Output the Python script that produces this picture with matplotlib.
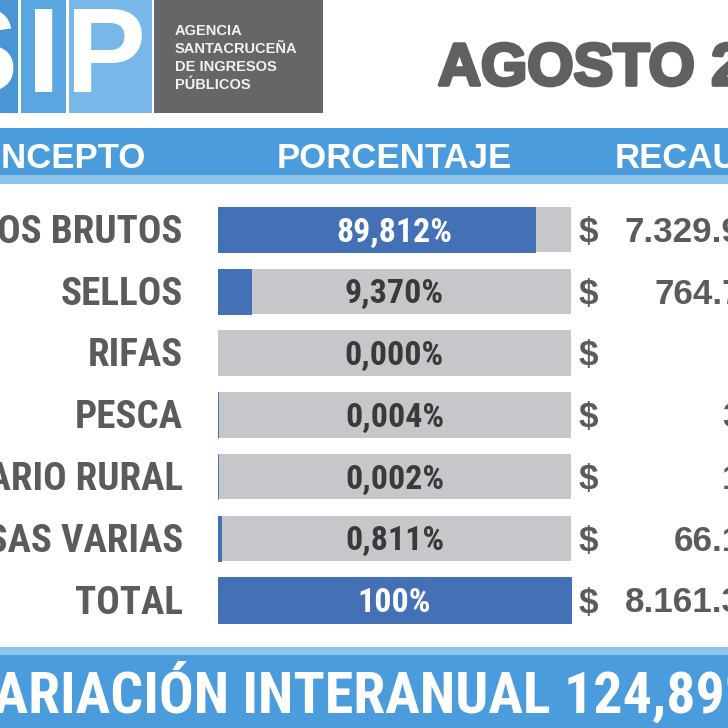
import matplotlib
matplotlib.use("Agg")
import matplotlib.pyplot as plt
from matplotlib.patches import Rectangle
from matplotlib import patheffects as pe
from matplotlib import font_manager as fm
from matplotlib.font_manager import FontProperties

# ---------------- data ----------------
conceptos = ["INGRESOS BRUTOS", "SELLOS", "RIFAS", "PESCA",
             "INMOBILIARIO RURAL", "TASAS VARIAS", "TOTAL"]
porcentajes = [89.812, 9.370, 0.000, 0.004, 0.002, 0.811, 100.0]
recaudacion = [7329916568, 764723180, 15000, 326456, 163228, 66188954, 8161333386]
titulo = "AGOSTO 2023"
encabezados = ["CONCEPTO", "PORCENTAJE", "RECAUDACIÓN"]
logo_letras = ["S", "I", "P"]
logo_texto = ["AGENCIA", "SANTACRUCEÑA", "DE INGRESOS", "PÚBLICOS"]
variacion = "VARIACIÓN INTERANUAL 124,89%"

# ---------------- fonts ----------------
names = {f.name for f in fm.fontManager.ttflist}
BOLD = "Liberation Sans" if "Liberation Sans" in names else "DejaVu Sans"


def _weight(w):
    if isinstance(w, (int, float)):
        return int(w)
    return fm.weight_dict.get(str(w), 400)


def find_condensed_bold():
    order = ["Roboto Condensed", "Liberation Sans Narrow", "Open Sans",
             "Noto Sans", "Lato", "Inter", "DejaVu Sans"]
    best = None
    for f in fm.fontManager.ttflist:
        if "CJK" in f.name or f.style != "normal":
            continue
        st = str(f.stretch)
        cond = ("Condensed" in f.name or "Narrow" in f.name
                or "Condensed" in f.fname or "Narrow" in f.fname
                or st in ("condensed", "semi-condensed"))
        if "Extra" in f.fname or "Ultra" in f.fname:
            continue
        if not cond:
            continue
        w = _weight(f.weight)
        if w < 600 or w > 800:
            continue
        rank = len(order)
        for i, o in enumerate(order):
            if f.name.startswith(o):
                rank = i
                break
        key = (rank, abs(w - 700))
        if best is None or key < best[0]:
            best = (key, f.fname)
    return best[1] if best else None


cond_path = find_condensed_bold()


def narrow_fp(px):
    if cond_path:
        return FontProperties(fname=cond_path, size=px * 0.72)
    return FontProperties(family=BOLD, weight="bold", size=px * 0.72)


def bold_fp(px):
    return FontProperties(family=BOLD, weight="bold", size=px * 0.72)


BLUE_BAR = "#4470b6"
GRAY_BAR = "#c6c7cb"
LABEL = "#5b5b5b"
HEAD_BLUE = "#4b9cdc"
HEAD_LIGHT = "#8cc4ec"

fig = plt.figure(figsize=(7.28, 7.28), dpi=100)
fig.patch.set_facecolor("white")
ax = fig.add_axes([0, 0, 1, 1])
ax.set_xlim(0, 728)
ax.set_ylim(728, 0)
ax.axis("off")
renderer = fig.canvas.get_renderer()


def text_w(s, fp):
    t = ax.text(0, 0, s, fontproperties=fp)
    w = t.get_window_extent(renderer).width
    t.remove()
    return w


def fit_px(s, target_w, max_px, maker):
    w = text_w(s, maker(100))
    return min(100.0 * target_w / w, max_px)


# ---------------- logo ----------------
tiles = [(-40, 18, "#4a95d5"), (21, 66, "#5aa6e0"), (69, 152, "#78b8e8")]
for (x0, x1, c) in tiles:
    ax.add_patch(Rectangle((x0, -5), x1 - x0, 118, facecolor=c, edgecolor="none"))
ax.add_patch(Rectangle((154, -5), 169, 118, facecolor="#666666", edgecolor="none"))
for letra, cx in zip(logo_letras, [-22, 44, 106]):
    ax.text(cx, 92, letra, ha="center", va="baseline", color="white",
            fontproperties=bold_fp(120))
for i, t in enumerate(logo_texto):
    ax.text(175, 35 + i * 18, t, ha="left", va="baseline", color="#f2f2f2",
            fontproperties=bold_fp(14.6))

# ---------------- title ----------------
ax.text(438, 85, titulo, ha="left", va="baseline", color="#606060",
        fontproperties=bold_fp(59.5),
        path_effects=[pe.withStroke(linewidth=2.6, foreground="#606060")])

# ---------------- header band ----------------
ax.add_patch(Rectangle((-5, 128), 740, 47, facecolor=HEAD_BLUE, edgecolor="none"))
ax.add_patch(Rectangle((-5, 175), 740, 9, facecolor=HEAD_LIGHT, edgecolor="none"))
hdr_fp = bold_fp(34.8)
ax.text(146, 168, encabezados[0], ha="right", va="baseline", color="white", fontproperties=hdr_fp)
ax.text(394.5, 168, encabezados[1], ha="center", va="baseline", color="white", fontproperties=hdr_fp)
ax.text(615, 168, encabezados[2], ha="left", va="baseline", color="white", fontproperties=hdr_fp)

# ---------------- bars ----------------
bar_left, bar_w = 218, 353
row0, pitch, bh = 229.5, 61.75, 45.5
ys = [row0 + i * pitch for i in range(len(conceptos))]

ax.barh(ys, [bar_w] * len(ys), left=bar_left, height=bh, color=GRAY_BAR, edgecolor="none")
ax.barh(ys, [p / 100.0 * bar_w for p in porcentajes], left=bar_left, height=bh,
        color=BLUE_BAR, edgecolor=BLUE_BAR,
        linewidth=[0.7 if p > 0 else 0 for p in porcentajes])


def fmt_pct(p):
    if p == 100:
        return "100%"
    return f"{p:.3f}".replace(".", ",") + "%"


def fmt_money(v):
    return f"{v:,}".replace(",", ".")


lab_px = fit_px("SELLOS", 126, 39, narrow_fp)
pct_px = fit_px("89,812%", 116, 34, narrow_fp)
lab_fp = narrow_fp(lab_px)
pct_fp = narrow_fp(pct_px)
val_fp = bold_fp(35)

for c, p, v, y in zip(conceptos, porcentajes, recaudacion, ys):
    ax.text(183, y + 13.5, c, ha="right", va="baseline", color=LABEL, fontproperties=lab_fp)
    ax.text(bar_left + bar_w / 2, y + 12, fmt_pct(p), ha="center", va="baseline",
            color="white" if p > 50 else "#3a3a3a", fontproperties=pct_fp)
    ax.text(579, y + 12.5, "$", ha="left", va="baseline", color=LABEL, fontproperties=val_fp)
    ax.text(849, y + 12.5, fmt_money(v), ha="right", va="baseline", color=LABEL,
            fontproperties=val_fp)

# ---------------- bottom band ----------------
ax.add_patch(Rectangle((-5, 647), 740, 8, facecolor=HEAD_LIGHT, edgecolor="none"))
ax.add_patch(Rectangle((-5, 655), 740, 80, facecolor=HEAD_BLUE, edgecolor="none"))
vis = variacion[1:-2]  # part visible in the reference frame
var_px = fit_px(vis, 703, 62, narrow_fp)
var_fp = narrow_fp(var_px)
v_w = text_w(variacion[:1], var_fp)
ax.text(-6 - v_w, 713, variacion, ha="left", va="baseline", color="white", fontproperties=var_fp)

fig.savefig("out.png", dpi=100, facecolor="white")
